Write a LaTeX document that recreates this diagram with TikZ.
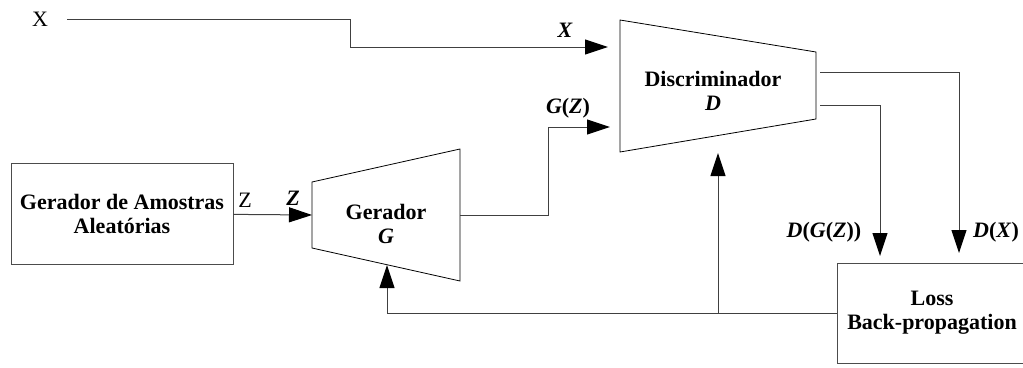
\documentclass[tikz,border=0pt]{standalone}
\usepackage{fontspec}
\setmainfont{Liberation Serif}
\usetikzlibrary{arrows.meta}
\tikzset{
  >={Triangle[length=23pt, width=15pt, color=black]},
  blk/.style={draw=black!70, line width=0.9pt, align=center,
    font=\bfseries\fontsize{22}{24}\selectfont, inner sep=0pt},
  trap/.style={draw=black, line width=0.8pt},
  tlabel/.style={align=center, font=\bfseries\fontsize{22}{24}\selectfont},
  flow/.style={->, line width=1pt, draw=black!75},
  vlabel/.style={font=\bfseries\itshape\fontsize{22}{24}\selectfont, inner sep=1pt},
  plabel/.style={font=\fontsize{22}{24}\selectfont, inner sep=1pt},
}

\begin{document}
\begin{tikzpicture}[x=1pt, y=-1pt]
  \useasboundingbox (0,0) rectangle (1023,367);

  % ---- Blocks ------------------------------------------------------------
  \node[blk, minimum width=222pt, minimum height=101pt] (amostras) at (122,213.5)
        {Gerador de Amostras\\Aleatórias};
  \node[blk, minimum width=190pt, minimum height=100pt] (loss) at (932,313)
        {Loss\\Back-propagation};

  % generator trapezoid
  \coordinate (gTL) at (312,182);
  \coordinate (gTR) at (460,149);
  \coordinate (gBR) at (460,281);
  \coordinate (gBL) at (312,248);
  \draw[trap] (gTL) -- (gTR) -- (gBR) -- (gBL) -- cycle;
  \node[tlabel] (gen) at (386,224) {Gerador\\\textit{G}};

  % discriminator trapezoid
  \coordinate (dTL) at (620,20);
  \coordinate (dTR) at (816,52);
  \coordinate (dBR) at (816,119);
  \coordinate (dBL) at (620,152);
  \draw[trap] (dTL) -- (dTR) -- (dBR) -- (dBL) -- cycle;
  \node[tlabel] (disc) at (713,91) {Discriminador\\\textit{D}};

  % ---- Ports -------------------------------------------------------------
  \node[plabel] (xin) at (40,19) {X};
  \coordinate (gIn)   at (312,215);
  \coordinate (gOut)  at (460,215);
  \coordinate (gFb)   at (387,265);
  \coordinate (dXin)  at (608,47);
  \coordinate (dGin)  at (610,127);
  \coordinate (dFb)   at (718,153);
  \coordinate (dOutX) at (820,72);
  \coordinate (dOutG) at (820,105);
  \coordinate (lossX) at (959,253);
  \coordinate (lossG) at (880,256);
  \coordinate (fbJoin) at (718,313);

  % ---- Edges -------------------------------------------------------------
  \draw[flow, shorten <=18pt] (xin) -- (350,19) |- (dXin);
  \node[vlabel] at (565,30) {X};

  \draw[flow] (amostras) -- (gIn);
  \node[plabel] at (245,200) {Z};
  \node[vlabel] at (293,198) {Z};

  \draw[flow] (gOut) -- (548,215) |- (dGin);
  \node[vlabel] at (568,108) {G\textup{(}Z\textup{)}};

  \draw[flow] (dOutX) -| (lossX);
  \draw[flow] (dOutG) -| (lossG);
  \node[vlabel] at (824,232) {D\textup{(}G\textup{(}Z\textup{))}};
  \node[vlabel] at (996,232) {D\textup{(}X\textup{)}};

  % feedback from loss to both networks
  \draw[flow] (loss) -| (gFb);
  \draw[flow] (fbJoin) -- (dFb);

\end{tikzpicture}
\end{document}
